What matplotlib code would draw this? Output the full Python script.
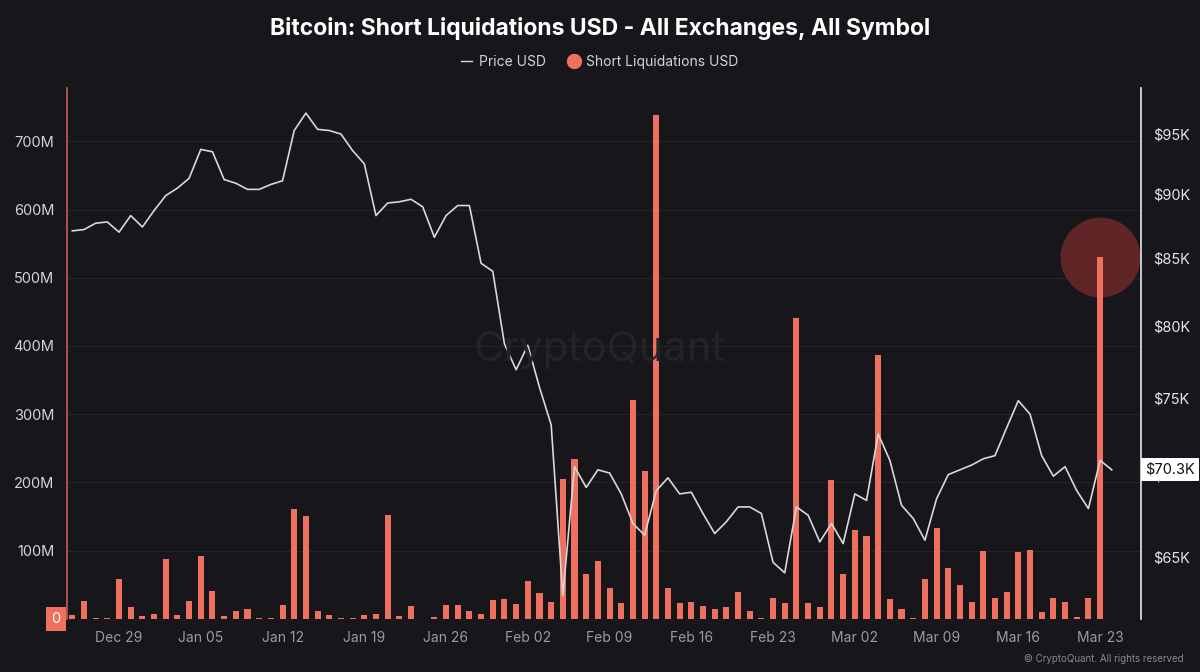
import numpy as np
import pandas as pd
import matplotlib
matplotlib.use("Agg")
import matplotlib.pyplot as plt
import matplotlib.dates as mdates
from matplotlib.lines import Line2D
from matplotlib.ticker import FuncFormatter, FixedLocator, NullLocator
import matplotlib.transforms as mtransforms

plt.rcParams['font.family'] = ['Inter', 'DejaVu Sans']

# daily data, Dec 25 2025 .. Mar 24 2026
dates = pd.date_range('2025-12-25', periods=90, freq='D')

# short liquidations, millions USD
short_liq = [6, 26, 1.5, 1, 59, 17, 5, 8, 88, 6,
             26, 92, 41, 5, 12, 14, 1, 2, 20, 161,
             151, 12, 6, 1, 1, 6, 7, 153, 4, 18.5,
             0.5, 3, 20, 21, 12, 7, 28, 29, 22, 55,
             38, 25, 205, 235, 66, 85, 46, 23, 321, 217,
             738, 46, 24, 25, 19, 15, 18, 40, 12, 2,
             31, 24, 441, 24, 18, 204, 66, 131, 122, 387,
             29, 15, 2, 58, 133, 74, 50, 25, 100, 31,
             40, 98, 101, 10, 31, 25, 3, 31, 531, 0]

# BTC price, thousands USD
price = [87.1, 87.2, 87.7, 87.8, 87.0, 88.3, 87.4, 88.7, 89.9, 90.5,
         91.3, 93.7, 93.5, 91.2, 90.9, 90.4, 90.4, 90.8, 91.1, 95.3,
         96.8, 95.4, 95.3, 95.0, 93.6, 92.5, 88.3, 89.3, 89.4, 89.6,
         89.0, 86.6, 88.3, 89.1, 89.1, 84.6, 84.0, 78.7, 76.9, 78.6,
         75.7, 73.2, 62.8, 70.5, 69.2, 70.3, 70.1, 68.8, 67.0, 66.3,
         69.0, 69.8, 68.8, 68.9, 67.6, 66.4, 67.1, 68.0, 68.0, 67.6,
         64.7, 64.1, 68.0, 67.5, 65.9, 67.0, 65.8, 68.8, 68.4, 72.6,
         70.9, 68.1, 67.3, 66.0, 68.5, 70.0, 70.3, 70.6, 71.0, 71.2,
         73.0, 74.8, 73.9, 71.2, 69.9, 70.5, 69.0, 67.9, 70.9, 70.3]

left_ticks = [0, 100, 200, 300, 400, 500, 600, 700]
right_ticks = [65, 70, 75, 80, 85, 90, 95]
highlight_idx = 88

bg = '#17161b'
bar_color = '#f0705f'
line_color = '#d8d8d8'

fig = plt.figure(figsize=(12, 6.72), dpi=100, facecolor=bg)
ax = fig.add_axes([0.0558, 0.0789, 0.895, 0.7901])
ax.set_facecolor(bg)

short_usd = np.array(short_liq) * 1e6
price_usd = np.array(price) * 1e3

# highlight circle behind the biggest recent bar
ax.scatter([dates[highlight_idx]], [short_usd[highlight_idx]], s=3300,
           color='#6e2a2a', alpha=0.85, zorder=1, linewidths=0)
ax.bar(dates, short_usd, width=0.52, color=bar_color, zorder=2)

ax.set_ylim(0, 778e6)
ax.set_xlim(dates[0] - pd.Timedelta(hours=11), dates[0] + pd.Timedelta(days=91.5))
ax.yaxis.set_major_locator(FixedLocator([v * 1e6 for v in left_ticks]))
ax.yaxis.set_major_formatter(FuncFormatter(lambda v, p: '' if v == 0 else f'{v/1e6:.0f}M'))
ax.grid(axis='y', color='#26252b', linewidth=0.8, zorder=0)
ax.set_axisbelow(True)
ax.tick_params(axis='y', length=0, pad=9, labelsize=10.5, labelcolor='#d4d4d4')
ax.tick_params(axis='x', length=0, pad=9, labelsize=10, labelcolor='#9c9c9c')
ax.xaxis.set_major_locator(mdates.WeekdayLocator(byweekday=mdates.MO))
ax.xaxis.set_major_formatter(mdates.DateFormatter('%b %d'))
for s in ['top', 'right', 'bottom']:
    ax.spines[s].set_visible(False)
ax.spines['left'].set_color('#c85e50')
ax.spines['left'].set_linewidth(1.2)

# zero label box
trans = mtransforms.blended_transform_factory(ax.transAxes, ax.transData)
ax.text(-0.006, 0, '0', transform=trans, ha='right', va='center', fontsize=10.5,
        color='white', bbox=dict(boxstyle='square,pad=0.35', fc=bar_color, ec='none'))

ax2 = ax.twinx()
ax2.plot(dates, price_usd, color=line_color, linewidth=1.2, zorder=3)
ax2.set_yscale('log')
ax2.set_ylim(61.5e3, 99.0e3)
ax2.yaxis.set_major_locator(FixedLocator([v * 1e3 for v in right_ticks]))
ax2.yaxis.set_minor_locator(NullLocator())
ax2.yaxis.set_major_formatter(FuncFormatter(lambda v, p: f'${v/1e3:.0f}K'))
ax2.tick_params(axis='y', which='both', length=0, pad=9, labelsize=10.5, labelcolor='#e6e6e6')
for s in ['top', 'left', 'bottom']:
    ax2.spines[s].set_visible(False)
ax2.spines['right'].set_color('#e8e8e8')
ax2.spines['right'].set_linewidth(1.2)

trans2 = mtransforms.blended_transform_factory(ax2.transAxes, ax2.transData)
ax2.text(1.004, price_usd[-1], f'${price[-1]:.1f}K', transform=trans2, ha='left', va='center',
         fontsize=10.5, color='#111111',
         bbox=dict(boxstyle='square,pad=0.3', fc='white', ec='none'), zorder=5)

fig.text(0.5, 0.957, 'Bitcoin: Short Liquidations USD - All Exchanges, All Symbol',
         ha='center', va='center', fontsize=16.5, fontweight='bold', color='white')

handles = [Line2D([], [], color=line_color, linewidth=1.0),
           Line2D([], [], marker='o', linestyle='none', markersize=10, color=bar_color)]
fig.legend(handles, ['Price USD', 'Short Liquidations USD'], loc='center',
           bbox_to_anchor=(0.5, 0.908), ncol=2, frameon=False, fontsize=10,
           labelcolor='#d4d4d4', handlelength=0.8, handletextpad=0.5, columnspacing=1.6)

fig.text(0.5, 0.479, 'CryptoQuant', ha='center', va='center', fontsize=30,
         color='#242329', zorder=0)
fig.text(0.986, 0.019, '\u00a9 CryptoQuant. All rights reserved', ha='right', va='center',
         fontsize=7, color='#8a8a8a')

fig.savefig('out.png', dpi=100, facecolor=bg)
